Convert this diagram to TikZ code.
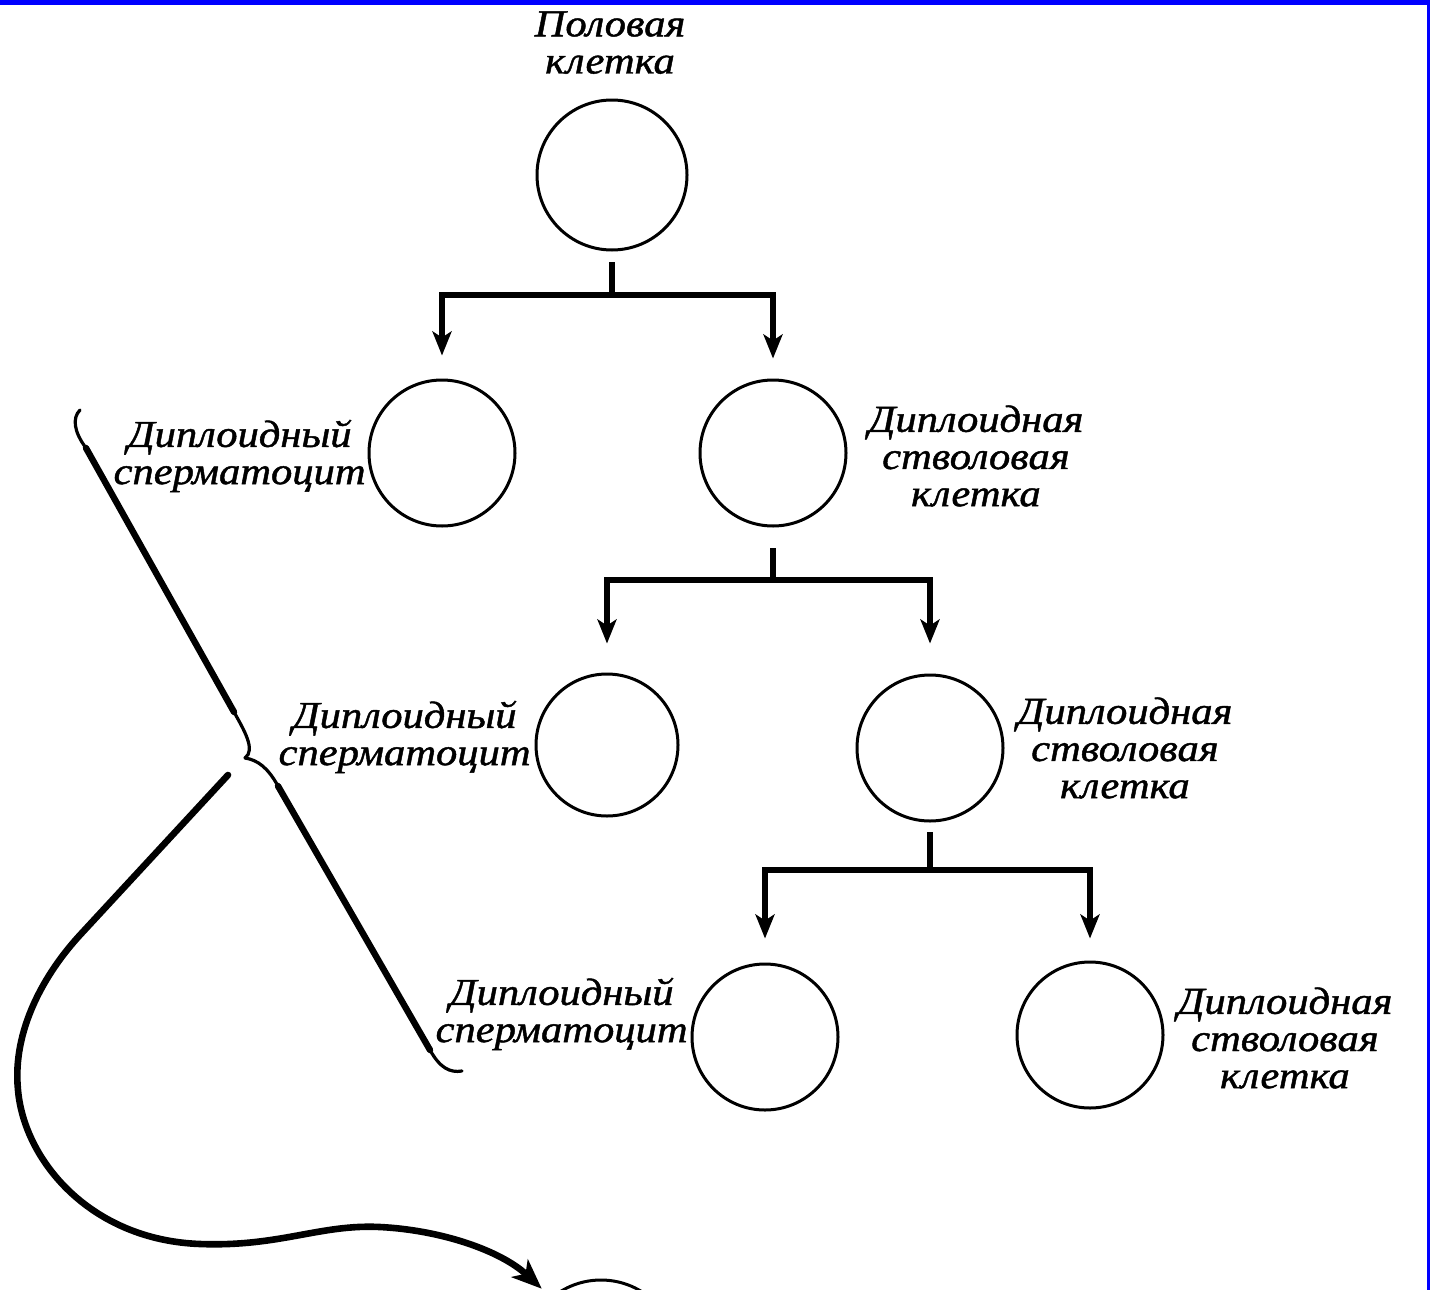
\documentclass[tikz,border=0pt]{standalone}
\usepackage{fontspec}
\newfontfamily\cellfont{Liberation Serif}[FakeStretch=1.12,FakeBold=1.2]
\usetikzlibrary{arrows.meta}
\begin{document}
\begin{tikzpicture}[x=0.5pt,y=-0.5pt,
  cell/.style={circle,draw,line width=1.5pt,minimum size=73pt,inner sep=0pt},
  lbl/.style={font=\cellfont\itshape\fontsize{19}{18.6}\selectfont,inner sep=0pt,align=center},
  conn/.style={line width=2.8pt,line join=miter},
  arr/.style={conn,-{Stealth[length=12pt,width=9.5pt,inset=3pt]}},
  bracearm/.style={line width=3.2pt,line cap=round},
  bracethin/.style={line width=1.6pt,line cap=round},
  bigarrow/.style={line width=3.3pt,line cap=round,-{Stealth[length=15pt,width=12pt,inset=4pt]}}
]
\useasboundingbox (0,0) rectangle (1430,1290);
\fill[white] (0,0) rectangle (1430,1290);
% blue frame
\fill[blue] (0,0) rectangle (1430,5);
\fill[blue] (1427,0) rectangle (1430,1290);

% cells
\node[cell,minimum size=75pt] (c0) at (612,175) {};
\node[cell] (c1a) at (442,453) {};
\node[cell] (c1b) at (773,453) {};
\node[cell,minimum size=71pt] (c2a) at (607,745) {};
\node[cell] (c2b) at (930,748) {};
\node[cell] (c3a) at (765,1037) {};
\node[cell] (c3b) at (1090,1035) {};
\node[cell,minimum size=77pt] (c4) at (601,1357) {};

% labels
\node[lbl,anchor=north] (t0) at (610,11) {Половая\\клетка};
\node[lbl,anchor=east] (la1) at (366,456) {Диплоидный\\сперматоцит};
\node[lbl,anchor=west] (lb1) at (868,456) {Диплоидная\\стволовая\\клетка};
\node[lbl,anchor=east] (la2) at (531,737) {Диплоидный\\сперматоцит};
\node[lbl,anchor=west] (lb2) at (1017,748) {Диплоидная\\стволовая\\клетка};
\node[lbl,anchor=east] (la3) at (688,1014) {Диплоидный\\сперматоцит};
\node[lbl,anchor=west] (lb3) at (1177,1038) {Диплоидная\\стволовая\\клетка};

% divisions
\coordinate (s0) at (612,262); \coordinate (j0) at (612,295);
\draw[conn] (s0) -- (j0);
\draw[arr] (j0) -| ([yshift=11.5pt]c1a.north);
\draw[arr] (j0) -| ([yshift=10pt]c1b.north);

\coordinate (s1) at (773,548); \coordinate (j1) at (773,580);
\draw[conn] (s1) -- (j1);
\draw[arr] (j1) -| ([yshift=14.5pt]c2a.north);
\draw[arr] (j1) -| ([yshift=15pt]c2b.north);

\coordinate (s2) at (930,832); \coordinate (j2) at (930,870);
\draw[conn] (s2) -- (j2);
\draw[arr] (j2) -| ([yshift=12pt]c3a.north);
\draw[arr] (j2) -| ([yshift=11pt]c3b.north);

% brace
\draw[bracearm] (86,448) -- (234,712);
\draw[bracearm] (278,786) -- (430,1050);
\draw[bracethin] (86,448) .. controls (74,432) and (72,418) .. (80,410);
\draw[bracethin] (234,712) .. controls (244,730) and (256,750) .. (245,758);
\draw[bracethin] (245,758) .. controls (258,760) and (268,768) .. (278,786);
\draw[bracethin] (430,1050) .. controls (440,1068) and (450,1073) .. (462,1071);

% long arrow
\coordinate (bt) at (228,775);
\draw[bigarrow,shorten >=6pt] (bt) -- (80,935)
  .. controls (45,973) and (12,1030) .. (18,1090)
  .. controls (24,1160) and (90,1240) .. (200,1244)
  .. controls (280,1247) and (320,1224) .. (380,1227)
  .. controls (440,1230) and (500,1250) .. (c4.130);
\end{tikzpicture}
\end{document}
